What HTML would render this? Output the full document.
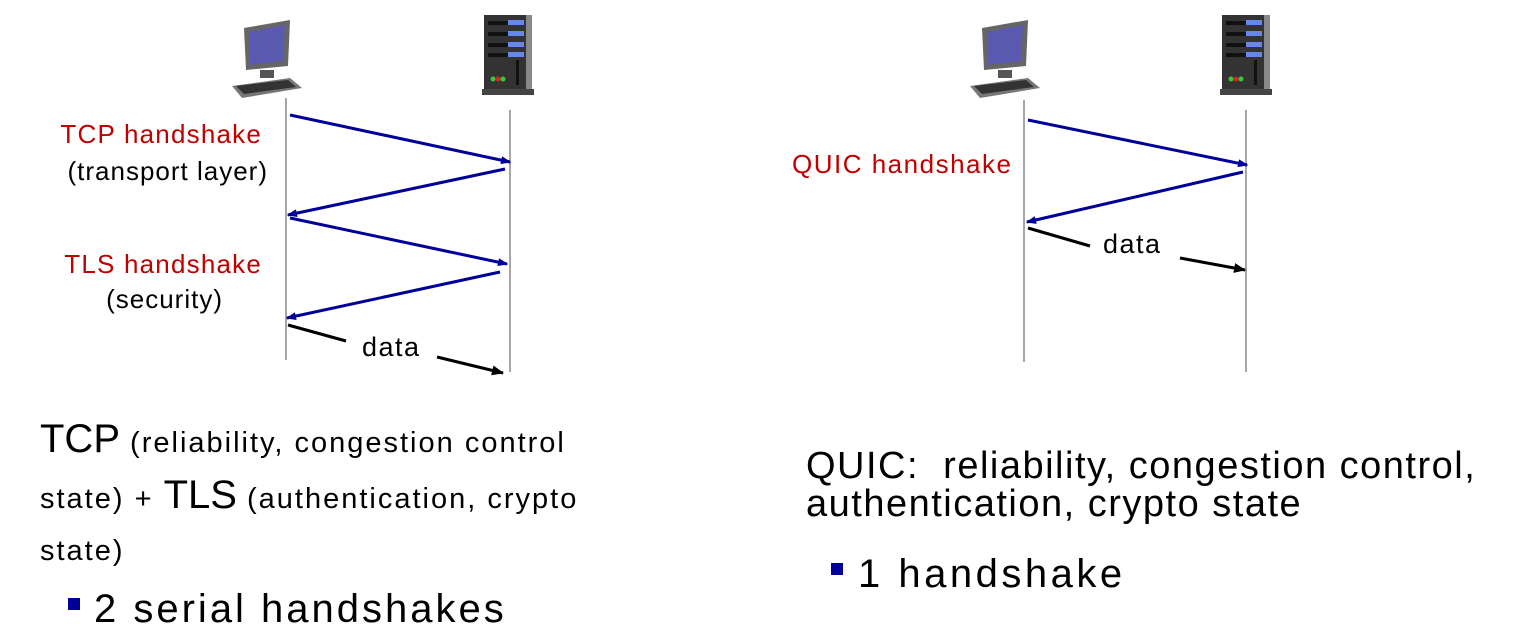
<!DOCTYPE html>
<html><head><style>
body{margin:0;width:1516px;height:642px;background:#fff;position:relative;overflow:hidden;font-family:"Liberation Sans",sans-serif}
.t{position:absolute;white-space:nowrap;line-height:1}
.r{color:#c00000}
</style></head><body>
<svg width="1516" height="642" style="position:absolute;left:0;top:0">
<defs>
<marker id="ab" markerWidth="10" markerHeight="8" refX="9" refY="4" orient="auto" markerUnits="userSpaceOnUse"><path d="M0,0 L14,4 L0,8z" fill="#000099" transform="scale(0.75,1)"/></marker>
<marker id="ak" markerWidth="12" markerHeight="10" refX="11" refY="5" orient="auto" markerUnits="userSpaceOnUse"><path d="M0,0 L12,5 L0,10z" fill="#000"/></marker>
<g id="pc">
<polygon points="14,10 60,2 58,48 16,52" fill="#666"/>
<polygon points="19,14 55,7 53,43 20,47" fill="#5a5ab0"/>
<rect x="30" y="52" width="14" height="8" fill="#555"/>
<polygon points="2,68 60,60 72,70 12,80" fill="#777"/>
<polygon points="6,68 58,62 66,69 14,76" fill="#333"/>
</g>
<g id="sv">
<rect x="0" y="0" width="48" height="78" fill="#333"/>
<rect x="42" y="0" width="6" height="78" fill="#888"/>
<rect x="4" y="6" width="36" height="4" fill="#111"/><rect x="24" y="5" width="16" height="5" fill="#6688ee"/>
<rect x="4" y="17" width="36" height="4" fill="#111"/><rect x="24" y="16" width="16" height="5" fill="#6688ee"/>
<rect x="4" y="28" width="36" height="4" fill="#111"/><rect x="24" y="27" width="16" height="5" fill="#6688ee"/>
<rect x="4" y="38" width="36" height="4" fill="#111"/><rect x="24" y="37" width="16" height="5" fill="#6688ee"/>
<rect x="32" y="45" width="3" height="25" fill="#111"/>
<circle cx="9" cy="64" r="2.5" fill="#3c3"/><circle cx="14" cy="64" r="2.5" fill="#d22"/><circle cx="19" cy="64" r="2.5" fill="#3c3"/>
<rect x="-2" y="74" width="52" height="6" fill="#444"/>
</g>
</defs>
<use href="#pc" x="230" y="18"/>
<use href="#sv" x="484" y="15"/>
<use href="#pc" x="968" y="18"/>
<use href="#sv" x="1222" y="15"/>
<g stroke="#888" stroke-width="1.5">
<line x1="286" y1="98" x2="286" y2="360"/><line x1="510" y1="110" x2="510" y2="372"/>
<line x1="1024" y1="100" x2="1024" y2="362"/><line x1="1246" y1="110" x2="1246" y2="372"/>
</g>
<g stroke="#000099" stroke-width="3" marker-end="url(#ab)">
<line x1="290" y1="115" x2="510" y2="162"/>
<line x1="505" y1="169" x2="288" y2="215"/>
<line x1="290" y1="218" x2="507" y2="264"/>
<line x1="500" y1="272" x2="287" y2="318"/>
<line x1="1028" y1="120" x2="1247" y2="165"/>
<line x1="1243" y1="172" x2="1027" y2="222"/>
</g>
<g stroke="#000" stroke-width="3">
<line x1="288" y1="325" x2="346" y2="341"/>
<line x1="437" y1="357" x2="503" y2="373" marker-end="url(#ak)"/>
<line x1="1028" y1="228" x2="1090" y2="246"/>
<line x1="1180" y1="258" x2="1245" y2="270" marker-end="url(#ak)"/>
</g>
<rect x="68" y="598" width="12" height="12" fill="#000099"/>
<rect x="831" y="563" width="12" height="12" fill="#000099"/>
</svg>
<div class="t r" style="right:1254px;top:121px;font-size:26px;letter-spacing:1.2px">TCP handshake</div>
<div class="t" style="right:1248px;top:158px;font-size:26px;letter-spacing:1px">(transport layer)</div>
<div class="t r" style="right:1254px;top:251px;font-size:26px;letter-spacing:1.2px">TLS handshake</div>
<div class="t" style="right:1293px;top:286px;font-size:26px;letter-spacing:1px">(security)</div>
<div class="t" style="left:362px;top:334px;font-size:27px;letter-spacing:1.5px">data</div>
<div class="t r" style="left:792px;top:151px;font-size:26px;letter-spacing:1.5px">QUIC handshake</div>
<div class="t" style="left:1103px;top:231px;font-size:27px;letter-spacing:1.5px">data</div>
<div class="t" style="left:40px;top:413px;font-size:29px;line-height:52px;letter-spacing:2px"><span style="font-size:40px;letter-spacing:0">TCP</span> (reliability, congestion control<br>state) + <span style="font-size:40px;letter-spacing:0">TLS</span> (authentication, crypto<br>state)</div>
<div class="t" style="left:94px;top:589px;font-size:40px;letter-spacing:3px">2 serial handshakes</div>
<div class="t" style="left:806px;top:447px;font-size:38px;line-height:38px;letter-spacing:1.5px">QUIC:&nbsp; reliability, congestion control,<br>authentication, crypto state</div>
<div class="t" style="left:858px;top:554px;font-size:40px;letter-spacing:3.5px">1 handshake</div>
</body></html>
